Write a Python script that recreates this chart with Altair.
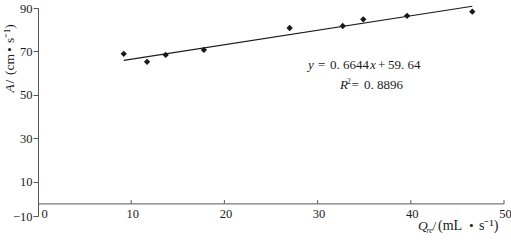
import altair as alt
import pandas as pd

# ---- data ----
q_re = [9.2, 11.7, 13.7, 17.8, 27.0, 32.7, 34.9, 39.6, 46.6]
a_val = [68.9, 65.2, 68.4, 70.7, 80.8, 81.7, 84.8, 86.4, 88.3]
fit_q = [9.2, 46.6]
fit_a = [65.9, 90.8]
x_ticks = [0, 10, 20, 30, 40, 50]
y_ticks = [-10, 10, 30, 50, 70, 90]

FONT = "Liberation Serif"
INK = "#1a1a1a"
AXIS = "#555555"

pts = pd.DataFrame({"q": q_re, "a": a_val})
fit = pd.DataFrame({"q": fit_q, "a": fit_a})
tk = pd.DataFrame({"q": x_ticks[1:]})

xs = alt.Scale(domain=[0, 50], nice=False, zero=False)
ys = alt.Scale(domain=[-10, 0, 90], range=[208, 195.4, 0], nice=False, zero=False)

x_axis = alt.Axis(values=x_ticks, title=None, grid=False, tickSize=0, offset=-12.6,
                  labelPadding=4, domainColor=AXIS, domainWidth=1,
                  labelFont=FONT, labelFontSize=12.5, labelColor=INK,
                  labelAlign={"expr": "datum.value == 0 ? 'left' : 'center'"},
                  labelOffset={"expr": "datum.value == 0 ? 3 : 1"})
y_axis = alt.Axis(values=y_ticks, title=None, grid=False, tickSize=5, labelPadding=1,
                  domainColor=AXIS, tickColor=AXIS, labelFont=FONT, labelFontSize=12.5,
                  labelColor=INK)

base_x = alt.X("q:Q", scale=xs, axis=x_axis)
base_y = alt.Y("a:Q", scale=ys, axis=y_axis)

points = alt.Chart(pts).mark_point(shape="diamond", filled=True, size=40, color=INK,
                                   opacity=1).encode(x=base_x, y=base_y)
line = alt.Chart(fit).mark_line(color=INK, strokeWidth=1.2).encode(
    x=alt.X("q:Q", scale=xs), y=alt.Y("a:Q", scale=ys))
ticks = alt.Chart(tk).mark_rule(color=AXIS).encode(
    x=alt.X("q:Q", scale=xs), y=alt.datum(0, scale=ys), y2=alt.datum(1.5))


def txt(s, x, y, size=13, style="normal", angle=0):
    return alt.Chart(pd.DataFrame({"t": [0]})).mark_text(
        text=s, font=FONT, fontSize=size, fontStyle=style, align="left",
        baseline="alphabetic", angle=angle, color=INK
    ).encode(x=alt.value(x), y=alt.value(y))


labels = [
    # equation
    txt("y", 270, 60.7, style="italic"),
    txt("=", 280, 60.7),
    txt("0. 6644", 292, 60.7),
    txt("x", 332, 60.7, style="italic"),
    txt("+", 340, 60.7),
    txt("59. 64", 350, 60.7),
    # R^2
    txt("R", 302, 80.7, style="italic"),
    txt("2", 309, 75.5, size=7.5),
    txt("=", 313.5, 80.7),
    txt("0. 8896", 326, 80.7),
    # x title
    txt("Q", 380, 222, size=13.5, style="italic"),
    txt("re", 388.5, 224.5, size=8, style="italic"),
    txt("/", 394.5, 222, size=13.5),
    txt("(mL", 400, 222, size=14),
    txt("\u2022", 431, 222, size=13.5),
    txt("s\u207b\u00b9)", 441, 222, size=14),
    # y title
    txt("A", -24, 84.5, size=13.5, style="italic", angle=270),
    txt("/", -24, 75.5, size=13.5, angle=270),
    txt("(cm", -24, 67, size=13.5, angle=270),
    txt("\u2022", -24, 44, size=13.5, angle=270),
    txt("s\u207b\u00b9)", -24, 35, size=13.5, angle=270),
]

chart = alt.layer(points, line, ticks, *labels).properties(
    width=466, height=208,
    padding={"left": 38, "top": 8, "right": 7, "bottom": 26},
    autosize=alt.AutoSizeParams(type="none"),
).configure_view(stroke=None)

chart.save("out.html", embed_options={"renderer": "svg", "actions": False})
